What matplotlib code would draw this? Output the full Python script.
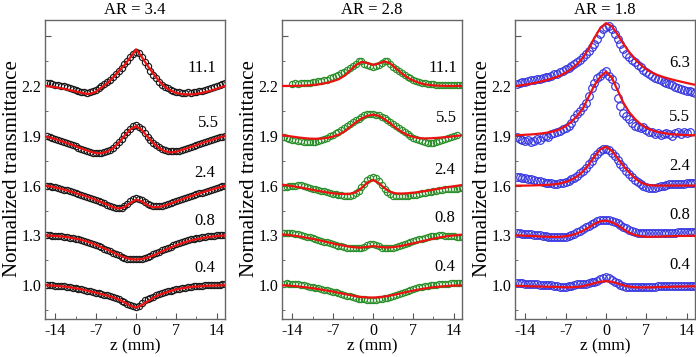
import numpy as np
import matplotlib
matplotlib.use('Agg')
import matplotlib.pyplot as plt
from matplotlib.ticker import FixedLocator

plt.rcParams['font.family'] = ['Liberation Serif', 'DejaVu Serif']
plt.rcParams['axes.unicode_minus'] = False

nan = np.nan

# scan positions (mm)
z_fit = np.arange(-16, 17)               # fit curves, 1 mm steps
z_dat = np.arange(-15.5, 15.51, 0.5)     # measured points, 0.5 mm steps

# ---------------- AR = 3.4 ----------------
fit_34_111 = [2.201, 2.197, 2.192, 2.186, 2.179, 2.171, 2.163, 2.155, 2.152, 2.165, 2.190,
              2.216, 2.250, 2.290, 2.325, 2.372, 2.420, 2.375, 2.322, 2.275, 2.230, 2.195,
              2.172, 2.158, 2.151, 2.149, 2.150, 2.155, 2.163, 2.172, 2.183, 2.195, 2.205]
dat_34_111 = [2.215, 2.218, 2.212, 2.208, 2.206, 2.201, 2.198, 2.193, 2.186,
              2.180, 2.176, 2.170, 2.166, 2.162, 2.160, 2.162, 2.168, 2.176,
              2.188, 2.198, 2.210, 2.222, 2.238, 2.252, 2.270, 2.290, 2.308,
              2.330, 2.352, 2.372, 2.395, 2.405, 2.400, 2.372, 2.345, 2.318,
              2.290, 2.265, 2.245, 2.225, 2.208, 2.195, 2.185, 2.175, 2.170,
              2.166, 2.162, 2.160, 2.160, 2.161, 2.160, 2.163, 2.166, 2.168,
              2.172, 2.176, 2.180, 2.186, 2.192, 2.198, 2.205, 2.212, 2.220]
fit_34_55 = [1.898, 1.890, 1.880, 1.868, 1.856, 1.844, 1.831, 1.817, 1.805, 1.796, 1.795,
             1.805, 1.825, 1.858, 1.900, 1.938, 1.958, 1.935, 1.895, 1.855, 1.826, 1.808,
             1.800, 1.804, 1.815, 1.826, 1.838, 1.850, 1.862, 1.873, 1.884, 1.895, 1.905]
dat_34_55 = [1.897, 1.892, 1.886, 1.882, 1.874, 1.868, 1.862, 1.855, 1.849,
             1.842, 1.836, 1.829, 1.822, 1.815, 1.810, 1.804, 1.799, 1.796,
             1.794, 1.796, 1.800, 1.806, 1.815, 1.826, 1.842, 1.862, 1.882,
             1.905, 1.925, 1.943, 1.958, 1.965, 1.955, 1.938, 1.915, 1.895,
             1.874, 1.856, 1.842, 1.830, 1.820, 1.812, 1.808, 1.806, 1.806,
             1.808, 1.811, 1.815, 1.820, 1.826, 1.832, 1.838, 1.843, 1.849,
             1.855, 1.861, 1.867, 1.872, 1.878, 1.884, 1.890, 1.895, 1.900]
fit_34_24 = [1.602, 1.596, 1.589, 1.580, 1.571, 1.561, 1.550, 1.539, 1.527, 1.514, 1.500,
             1.486, 1.470, 1.462, 1.470, 1.495, 1.516, 1.505, 1.482, 1.470, 1.471, 1.480,
             1.492, 1.505, 1.518, 1.530, 1.542, 1.553, 1.564, 1.574, 1.584, 1.594, 1.603]
dat_34_24 = [1.598, 1.596, 1.593, 1.589, 1.584, 1.580, 1.576, 1.571, 1.566,
             1.561, 1.556, 1.550, 1.545, 1.539, 1.533, 1.527, 1.520, 1.513,
             1.507, 1.500, 1.493, 1.485, 1.478, 1.470, 1.465, 1.464, 1.468,
             1.476, 1.490, 1.505, 1.522, 1.526, 1.520, 1.512, 1.502, 1.492,
             1.484, 1.478, 1.475, 1.475, 1.478, 1.483, 1.488, 1.494, 1.500,
             1.506, 1.512, 1.518, 1.524, 1.530, 1.536, 1.542, 1.548, 1.553,
             1.558, 1.564, 1.569, 1.574, 1.579, 1.584, 1.590, 1.595, 1.598]
fit_34_08 = [1.300, 1.299, 1.297, 1.294, 1.290, 1.284, 1.277, 1.268, 1.257, 1.244, 1.230,
             1.214, 1.198, 1.182, 1.168, 1.158, 1.155, 1.158, 1.167, 1.180, 1.196, 1.212,
             1.227, 1.241, 1.254, 1.265, 1.274, 1.281, 1.287, 1.292, 1.296, 1.299, 1.301]
dat_34_08 = [1.302, 1.300, 1.299, 1.298, 1.296, 1.295, 1.292, 1.290, 1.287,
             1.285, 1.281, 1.278, 1.273, 1.268, 1.262, 1.257, 1.250, 1.244,
             1.236, 1.229, 1.221, 1.213, 1.205, 1.197, 1.189, 1.181, 1.173,
             1.166, 1.161, 1.158, 1.157, 1.157, 1.158, 1.161, 1.166, 1.171,
             1.178, 1.186, 1.194, 1.202, 1.210, 1.218, 1.226, 1.233, 1.240,
             1.247, 1.254, 1.260, 1.266, 1.271, 1.276, 1.280, 1.284, 1.287,
             1.290, 1.293, 1.295, 1.297, 1.299, 1.300, 1.302, 1.303, 1.304]
fit_34_04 = [1.001, 0.999, 0.997, 0.994, 0.990, 0.985, 0.979, 0.972, 0.963, 0.955, 0.947,
             0.938, 0.928, 0.914, 0.897, 0.878, 0.866, 0.880, 0.902, 0.925, 0.942, 0.955,
             0.966, 0.975, 0.982, 0.987, 0.991, 0.994, 0.996, 0.998, 0.999, 1.000, 1.001]
dat_34_04 = [1.002, 1.001, 0.999, 0.998, 0.997, 0.995, 0.993, 0.991, 0.989,
             0.986, 0.983, 0.980, 0.976, 0.972, 0.968, 0.964, 0.960, 0.956,
             0.952, 0.947, 0.943, 0.939, 0.935, 0.930, 0.923, 0.916, 0.907,
             0.898, 0.890, 0.882, 0.874, 0.870, 0.878, 0.895, 0.912, 0.918,
             0.925, 0.932, 0.940, 0.946, 0.952, 0.958, 0.963, 0.968, 0.972,
             0.976, 0.980, 0.983, 0.986, 0.988, 0.991, 0.993, 0.995, 0.996,
             0.998, 0.999, 1.000, 1.001, 1.002, 1.003, 1.004, 1.005, 1.006]

# ---------------- AR = 2.8 ----------------
fit_28_111 = [2.200, 2.200, 2.200, 2.201, 2.202, 2.204, 2.207, 2.212, 2.219, 2.228, 2.240,
              2.260, 2.292, 2.325, 2.345, 2.338, 2.327, 2.335, 2.348, 2.335, 2.305, 2.275,
              2.250, 2.232, 2.219, 2.210, 2.205, 2.202, 2.201, 2.200, 2.200, 2.200, 2.200]
dat_28_111 = [nan, nan, nan, 2.212, 2.216, 2.214, 2.215, 2.218, 2.216,
              2.219, 2.222, 2.224, 2.228, 2.232, 2.236, 2.238, 2.245, 2.252,
              2.258, 2.266, 2.275, 2.285, 2.295, 2.307, 2.320, 2.335, 2.350,
              2.352, 2.335, 2.325, 2.318, 2.316, 2.320, 2.328, 2.340, 2.352,
              2.348, 2.330, 2.312, 2.300, 2.288, 2.276, 2.264, 2.254, 2.245,
              2.238, 2.231, 2.225, 2.220, 2.216, 2.213, 2.211, 2.209, 2.208,
              2.207, 2.206, 2.206, 2.205, 2.206, 2.205, 2.206, 2.205, 2.206]
fit_28_55 = [1.905, 1.900, 1.895, 1.890, 1.886, 1.883, 1.882, 1.883, 1.887, 1.895, 1.906,
             1.925, 1.952, 1.980, 2.003, 2.020, 2.027, 2.020, 2.000, 1.975, 1.946, 1.922,
             1.905, 1.893, 1.886, 1.884, 1.885, 1.887, 1.890, 1.893, 1.897, 1.901, 1.905]
dat_28_55 = [1.890, 1.885, 1.880, 1.876, 1.872, 1.869, 1.866, 1.863, 1.862,
             1.861, 1.861, 1.862, 1.866, 1.872, 1.880, 1.888, 1.896, 1.905,
             1.914, 1.923, 1.935, 1.947, 1.958, 1.970, 1.982, 1.993, 2.004,
             2.014, 2.024, 2.030, 2.032, 2.031, 2.028, 2.024, 2.015, 2.005,
             1.995, 1.985, 1.973, 1.960, 1.947, 1.934, 1.922, 1.910, 1.898,
             1.888, 1.879, 1.872, 1.866, 1.861, 1.858, 1.856, 1.858, 1.862,
             1.868, 1.875, 1.882, 1.888, 1.894, 1.900, 1.905, nan, nan]
fit_28_24 = [1.606, 1.602, 1.597, 1.591, 1.585, 1.578, 1.571, 1.565, 1.559, 1.554, 1.551,
             1.550, 1.551, 1.560, 1.585, 1.618, 1.634, 1.615, 1.585, 1.562, 1.553, 1.552,
             1.554, 1.557, 1.562, 1.567, 1.573, 1.579, 1.585, 1.591, 1.596, 1.601, 1.606]
dat_28_24 = [1.590, 1.592, 1.595, 1.598, 1.600, 1.603, 1.604, 1.600, 1.594,
             1.588, 1.582, 1.577, 1.573, 1.570, 1.565, 1.560, 1.556, 1.552,
             1.548, 1.545, 1.542, 1.540, 1.538, 1.538, 1.542, 1.555, 1.570,
             1.590, 1.612, 1.632, 1.645, 1.650, 1.643, 1.625, 1.603, 1.582,
             1.563, 1.548, 1.540, 1.537, 1.537, 1.538, 1.539, 1.540, 1.541,
             1.543, 1.546, 1.549, 1.553, 1.556, 1.560, 1.563, 1.566, 1.569,
             1.572, 1.575, 1.578, 1.580, 1.578, 1.580, 1.582, 1.584, 1.585]
fit_28_08 = [1.307, 1.304, 1.300, 1.295, 1.289, 1.283, 1.276, 1.268, 1.260, 1.252, 1.245,
             1.238, 1.232, 1.228, 1.227, 1.231, 1.236, 1.232, 1.228, 1.228, 1.232, 1.238,
             1.245, 1.253, 1.261, 1.269, 1.277, 1.284, 1.291, 1.296, 1.300, 1.303, 1.306]
dat_28_08 = [1.314, 1.316, 1.315, 1.313, 1.311, 1.308, 1.304, 1.298, 1.293,
             1.288, 1.283, 1.278, 1.273, 1.268, 1.263, 1.258, 1.252, 1.247,
             1.242, 1.238, 1.234, 1.230, 1.227, 1.225, 1.223, 1.222, 1.222,
             1.224, 1.230, 1.240, 1.248, 1.250, 1.244, 1.234, 1.226, 1.222,
             1.222, 1.224, 1.227, 1.231, 1.236, 1.241, 1.247, 1.252, 1.258,
             1.264, 1.270, 1.276, 1.281, 1.286, 1.290, 1.294, 1.297, 1.299,
             1.300, 1.300, 1.299, 1.297, 1.295, 1.294, 1.292, 1.292, 1.292]
fit_28_04 = [1.000, 0.999, 0.996, 0.993, 0.989, 0.985, 0.980, 0.974, 0.968, 0.962, 0.955,
             0.948, 0.941, 0.934, 0.929, 0.927, 0.926, 0.928, 0.932, 0.938, 0.945, 0.953,
             0.961, 0.968, 0.975, 0.981, 0.986, 0.990, 0.993, 0.996, 0.998, 0.999, 1.000]
dat_28_04 = [1.010, 1.011, 1.010, 1.009, 1.007, 1.005, 1.002, 0.999, 0.996,
             0.992, 0.989, 0.985, 0.981, 0.977, 0.973, 0.969, 0.965, 0.961,
             0.957, 0.953, 0.948, 0.943, 0.938, 0.933, 0.928, 0.924, 0.920,
             0.917, 0.915, 0.914, 0.913, 0.913, 0.914, 0.916, 0.918, 0.921,
             0.925, 0.930, 0.935, 0.941, 0.947, 0.953, 0.959, 0.965, 0.971,
             0.977, 0.982, 0.987, 0.991, 0.995, 0.998, 1.001, 1.003, 1.004,
             1.006, 1.008, 1.009, 1.010, 1.011, 1.012, 1.013, 1.014, 1.015]

# ---------------- AR = 1.8 ----------------
fit_18_63 = [2.198, 2.203, 2.208, 2.214, 2.221, 2.229, 2.238, 2.249, 2.262, 2.280, 2.303,
             2.332, 2.370, 2.425, 2.490, 2.548, 2.578, 2.560, 2.510, 2.455, 2.405, 2.363,
             2.328, 2.300, 2.280, 2.265, 2.253, 2.243, 2.234, 2.226, 2.218, 2.210, 2.204]
dat_18_63 = [2.212, 2.220, 2.226, 2.224, 2.232, 2.236, 2.238, 2.244, 2.242,
             2.250, 2.256, 2.256, 2.262, 2.270, 2.274, 2.284, 2.290, 2.300,
             2.310, 2.322, 2.330, 2.346, 2.358, 2.375, 2.392, 2.410, 2.432,
             2.455, 2.485, 2.515, 2.540, 2.555, 2.562, 2.545, 2.515, 2.482,
             2.450, 2.420, 2.395, 2.375, 2.355, 2.342, 2.325, 2.312, 2.295,
             2.282, 2.270, 2.262, 2.250, 2.240, 2.234, 2.224, 2.220, 2.210,
             2.205, 2.196, 2.190, 2.180, 2.178, 2.170, 2.168, 2.166, 2.160]
fit_18_55 = [1.902, 1.904, 1.906, 1.908, 1.911, 1.915, 1.920, 1.928, 1.940, 1.958, 1.985,
             2.020, 2.065, 2.135, 2.205, 2.255, 2.285, 2.250, 2.175, 2.100, 2.043, 2.002,
             1.970, 1.948, 1.933, 1.923, 1.916, 1.911, 1.908, 1.906, 1.904, 1.903, 1.902]
dat_18_55 = [1.895, 1.880, 1.872, 1.868, 1.875, 1.862, 1.866, 1.880, 1.872,
             1.890, 1.900, 1.895, 1.912, 1.918, 1.922, 1.930, 1.940, 1.945,
             1.958, 1.975, 2.010, 2.030, 2.050, 2.075, 2.100, 2.140, 2.185,
             2.215, 2.245, 2.262, 2.280, 2.288, 2.262, 2.240, 2.200, 2.130,
             2.080, 2.040, 2.020, 2.000, 1.975, 1.960, 1.955, 1.945, 1.950,
             1.935, 1.925, 1.920, 1.912, 1.915, 1.905, 1.912, 1.918, 1.908,
             1.900, 1.915, 1.920, 1.912, 1.925, 1.918, 1.922, nan, nan]
fit_18_24 = [1.600, 1.600, 1.600, 1.601, 1.602, 1.603, 1.605, 1.608, 1.613, 1.622, 1.636,
             1.656, 1.685, 1.727, 1.775, 1.818, 1.834, 1.810, 1.765, 1.720, 1.680, 1.645,
             1.620, 1.606, 1.601, 1.600, 1.600, 1.600, 1.600, 1.600, 1.600, 1.600, 1.600]
dat_18_24 = [1.652, 1.650, 1.647, 1.644, 1.641, 1.638, 1.634, 1.630, 1.626,
             1.622, 1.618, 1.615, 1.613, 1.612, 1.612, 1.613, 1.616, 1.622,
             1.630, 1.638, 1.648, 1.660, 1.675, 1.690, 1.708, 1.728, 1.750,
             1.772, 1.792, 1.808, 1.818, 1.820, 1.812, 1.798, 1.778, 1.755,
             1.732, 1.710, 1.690, 1.670, 1.652, 1.636, 1.622, 1.610, 1.600,
             1.592, 1.587, 1.585, 1.586, 1.590, 1.595, 1.600, 1.604, 1.607,
             1.609, 1.610, 1.611, 1.612, 1.612, 1.613, 1.613, 1.614, 1.614]
fit_18_08 = [1.301, 1.300, 1.298, 1.297, 1.295, 1.293, 1.292, 1.291, 1.292, 1.295, 1.302,
             1.313, 1.328, 1.348, 1.370, 1.385, 1.389, 1.380, 1.362, 1.338, 1.317, 1.303,
             1.295, 1.292, 1.292, 1.293, 1.294, 1.295, 1.296, 1.297, 1.297, 1.298, 1.298]
dat_18_08 = [1.313, 1.312, 1.310, 1.309, 1.308, 1.306, 1.304, 1.302, 1.300,
             1.297, 1.295, 1.293, 1.291, 1.289, 1.288, 1.288, 1.289, 1.292,
             1.297, 1.303, 1.310, 1.318, 1.328, 1.338, 1.349, 1.358, 1.368,
             1.376, 1.384, 1.390, 1.393, 1.394, 1.392, 1.387, 1.380, 1.372,
             1.363, 1.352, 1.342, 1.333, 1.326, 1.320, 1.316, 1.314, 1.313,
             1.312, 1.312, 1.313, 1.314, 1.314, 1.315, 1.315, 1.316, 1.317,
             1.316, 1.317, 1.318, 1.318, 1.319, 1.319, 1.320, 1.320, 1.320]
fit_18_04 = [0.996, 0.996, 0.995, 0.994, 0.993, 0.992, 0.991, 0.990, 0.989, 0.988, 0.988,
             0.990, 0.995, 1.003, 1.013, 1.021, 1.025, 1.021, 1.011, 1.000, 0.992, 0.988,
             0.987, 0.987, 0.988, 0.989, 0.990, 0.991, 0.992, 0.993, 0.993, 0.994, 0.994]
dat_18_04 = [1.014, 1.013, 1.012, 1.010, 1.008, 1.007, 1.006, 1.005, 1.004,
             1.004, 1.003, 1.002, 1.000, 0.997, 0.995, 0.992, 0.990, 0.990,
             0.993, 0.998, 1.003, 1.006, 1.007, 1.008, 1.010, 1.014, 1.018,
             1.022, 1.027, 1.035, 1.043, 1.047, 1.042, 1.032, 1.021, 1.011,
             1.003, 0.996, 0.992, 0.990, 0.989, 0.989, 0.990, 0.990, 0.989,
             0.988, 0.988, 0.990, 0.991, 0.993, 0.994, 0.995, 0.996, 0.996,
             0.997, 0.997, 0.996, 0.996, 0.996, 0.995, 0.995, 0.995, 0.995]

curve_labels_34 = ['11.1', '5.5', '2.4', '0.8', '0.4']
curve_labels_18 = ['6.3', '5.5', '2.4', '0.8', '0.4']

panels = [
    ('AR = 3.4', '#1a1a1a', 4.5, 45, curve_labels_34,
     [dat_34_111, dat_34_55, dat_34_24, dat_34_08, dat_34_04],
     [fit_34_111, fit_34_55, fit_34_24, fit_34_08, fit_34_04],
     [(11.5, 2.308), (12.5, 1.979), (11.9, 1.676), (11.9, 1.389), (11.9, 1.102)]),
    ('AR = 2.8', '#2a8f2a', 4.5, 282, curve_labels_34,
     [dat_28_111, dat_28_55, dat_28_24, dat_28_08, dat_28_04],
     [fit_28_111, fit_28_55, fit_28_24, fit_28_08, fit_28_04],
     [(12.2, 2.307), (12.7, 2.007), (12.5, 1.694), (12.5, 1.405), (12.5, 1.111)]),
    ('AR = 1.8', '#3535e0', 5.5, 515, curve_labels_18,
     [dat_18_63, dat_18_55, dat_18_24, dat_18_08, dat_18_04],
     [fit_18_63, fit_18_55, fit_18_24, fit_18_08, fit_18_04],
     [(12.8, 2.337), (12.8, 2.015), (12.8, 1.718), (12.8, 1.423), (12.8, 1.122)]),
]

fig = plt.figure(figsize=(6.96, 3.57), dpi=100)

for title, color, ms, left, labels, dats, fits, lab_pos in panels:
    ax = fig.add_axes([left / 696, 38.5 / 357, 180 / 696, 299 / 357])
    for dat, fit, lab, (lx, ly) in zip(dats, fits, labels, lab_pos):
        ax.plot(z_dat, dat, 'o', mfc='none', mec=color, mew=0.85, ms=ms, zorder=2)
        ax.plot(z_fit, fit, '-', color='#ee1111', lw=1.6, zorder=3)
        ax.text(lx, ly, lab, ha='center', va='center', fontsize=12)

    ax.set_xlim(-15.8, 15.45)
    ax.set_ylim(0.8, 2.6)
    ax.set_xticks([-14, -7, 0, 7, 14])
    ax.xaxis.set_minor_locator(FixedLocator([-10.5, -3.5, 3.5, 10.5]))
    ax.set_yticks([1.0, 1.3, 1.6, 1.9, 2.2, 2.5])
    ax.set_yticklabels(['1.0', '1.3', '1.6', '1.9', '2.2', ''])
    ax.yaxis.set_minor_locator(FixedLocator([0.85, 1.15, 1.45, 1.75, 2.05, 2.35]))
    ax.tick_params(which='both', direction='in', top=False, right=False,
                   labelsize=11.5, color='#555555')
    ax.tick_params(axis='y', pad=2.5)
    ax.tick_params(axis='x', pad=3)
    ax.tick_params(which='major', length=4)
    ax.tick_params(which='minor', length=2.5)
    for sp in ax.spines.values():
        sp.set_color('#666666')
        sp.set_linewidth(1.0)

    ax.set_title(title, fontsize=12, pad=4)
    ax.set_xlabel('z (mm)', fontsize=12.5, labelpad=0)
    ax.set_ylabel('Normalized transmittance', fontsize=15, labelpad=-0.5)

fig.savefig('out.png', dpi=100)
